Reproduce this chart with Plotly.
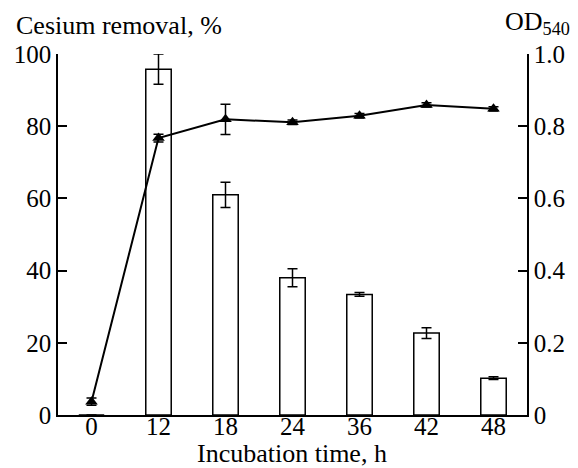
import plotly.graph_objects as go

times = ["0", "12", "18", "24", "36", "42", "48"]
removal = [0, 95.8, 61.0, 38.0, 33.4, 22.7, 10.2]
removal_err = [0, 4.2, 3.5, 2.5, 0.5, 1.5, 0.4]
od540 = [0.037, 0.767, 0.819, 0.811, 0.829, 0.859, 0.848]
od540_err = [0.01, 0.011, 0.042, 0.006, 0.006, 0.006, 0.006]

left_ticks = [0, 20, 40, 60, 80, 100]
right_ticks = [0, 0.2, 0.4, 0.6, 0.8, 1.0]
right_labels = ["0", "0.2", "0.4", "0.6", "0.8", "1.0"]

FONT = "Liberation Serif"
TICK = 25
TITLE = 26

fig = go.Figure()
fig.add_trace(go.Bar(
    x=times, y=removal, width=0.38,
    marker=dict(color="white", line=dict(color="black", width=1.5)),
    error_y=dict(type="data", array=removal_err, color="black", thickness=1.5, width=5),
    showlegend=False,
))
fig.add_trace(go.Scatter(
    x=times, y=od540, yaxis="y2", mode="lines+markers",
    line=dict(color="black", width=2),
    marker=dict(symbol="triangle-up", size=11, color="black"),
    error_y=dict(type="data", array=od540_err, color="black", thickness=1.5, width=5),
    showlegend=False,
))

fig.update_layout(
    width=578, height=468,
    margin=dict(l=58, r=43, t=54, b=53),
    plot_bgcolor="white", paper_bgcolor="white",
    font=dict(family=FONT, size=TICK, color="black"),
    xaxis=dict(
        type="category", range=[-0.5, 6.5], showline=True, linecolor="black", linewidth=1.5,
        ticks="", showticklabels=False, showgrid=False, zeroline=False,
    ),
    # label-only axis, placed slightly higher so the hour labels sit close to the axis line
    xaxis2=dict(
        type="linear", range=[-0.5, 6.5], overlaying="x", anchor="free", position=0.016,
        side="bottom", tickvals=list(range(len(times))), ticktext=times,
        showline=False, ticks="", showgrid=False, zeroline=False,
        tickfont=dict(family=FONT, size=TICK),
    ),
    yaxis=dict(
        range=[0, 100], tickvals=left_ticks, showline=True, linecolor="black", linewidth=1.5,
        ticks="inside", ticklen=9, tickwidth=1.5, tickcolor="black",
        showgrid=False, zeroline=False, tickfont=dict(family=FONT, size=TICK),
    ),
    yaxis2=dict(
        range=[0, 1], overlaying="y", side="right", tickvals=right_ticks, ticktext=right_labels,
        showline=True, linecolor="black", linewidth=1.5,
        ticks="inside", ticklen=9, tickwidth=1.5, tickcolor="black",
        showgrid=False, zeroline=False, tickfont=dict(family=FONT, size=TICK),
    ),
    annotations=[
        dict(text="Cesium removal, %", xref="paper", yref="paper", x=-0.094, y=1.08,
             xanchor="left", yanchor="middle", showarrow=False, font=dict(family=FONT, size=TITLE)),
        dict(text="OD<sub>540</sub>", xref="paper", yref="paper", x=1.095, y=1.085,
             xanchor="right", yanchor="middle", showarrow=False, font=dict(family=FONT, size=TITLE)),
        dict(text="Incubation time, h", xref="paper", yref="paper", x=0.499, y=-0.106,
             xanchor="center", yanchor="middle", showarrow=False, font=dict(family=FONT, size=TITLE)),
    ],
)
# empty trace so the label axis is drawn
fig.add_trace(go.Scatter(x=[None], y=[None], xaxis="x2", showlegend=False, hoverinfo="skip"))

fig.write_html("out.html")
